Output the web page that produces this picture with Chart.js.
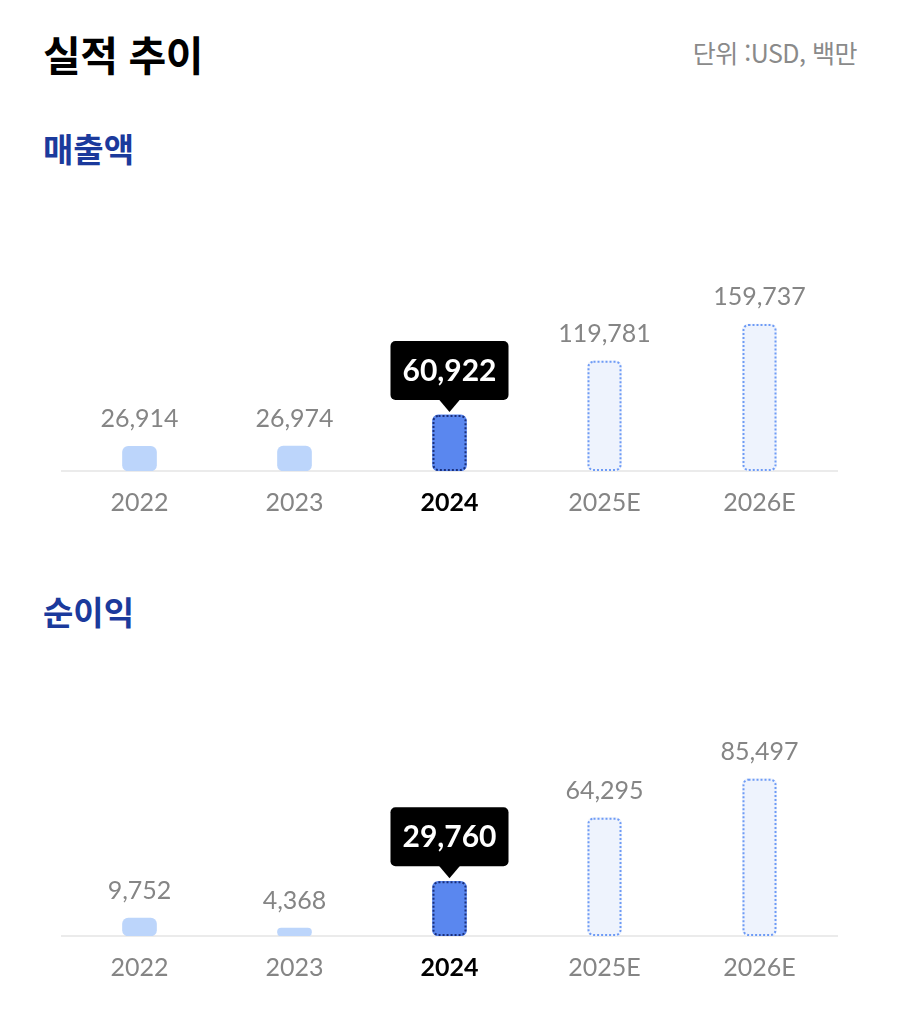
<!DOCTYPE html>
<html lang="ko">
<head>
<meta charset="utf-8">
<title>실적 추이</title>
<script src="https://cdn.jsdelivr.net/npm/chart.js@4.4.1/dist/chart.umd.min.js"></script>
<style>
    html, body { margin: 0; padding: 0; background: #fff; }
    body { width: 900px; height: 1014px; position: relative; overflow: hidden;
           font-family: "Noto Sans CJK KR", "Noto Sans", sans-serif; }
    .title { position: absolute; left: 43px; top: 28px; font-size: 41px; line-height: 50px;
             font-weight: 700; color: #000; letter-spacing: -0.5px; }
    .unit { position: absolute; right: 43px; top: 37px; font-size: 25px; line-height: 30px;
            color: #8a8a8a; letter-spacing: -0.5px; }
    .section { position: absolute; left: 43px; font-size: 33px; line-height: 40px;
               font-weight: 700; color: #1b3a9c; }
    .chart-box { position: absolute; left: 0; width: 900px; height: 368px; }
</style>
</head>
<body>
    <div class="title">실적 추이</div>
    <div class="unit">단위 :USD, 백만</div>

    <div class="section" style="top:128px">매출액</div>
    <div class="chart-box" style="top:180px"><canvas id="revenueChart"></canvas></div>

    <div class="section" style="top:591px">순이익</div>
    <div class="chart-box" style="top:645px"><canvas id="incomeChart"></canvas></div>

<script>
// ---- data ----
const YEARS = ['2022', '2023', '2024', '2025E', '2026E'];
const REVENUE = [26914, 26974, 60922, 119781, 159737];
const NET_INCOME = [9752, 4368, 29760, 64295, 85497];
const CURRENT_YEAR = '2024';
const FORECAST_YEARS = ['2025E', '2026E'];
const REVENUE_AXIS_MAX = 200000;
const NET_INCOME_AXIS_MAX = 100000;

const NUM_FONT = 'Lato, "Noto Sans", sans-serif';

function kindOf(year) {
    if (year === CURRENT_YEAR) return 'current';
    if (FORECAST_YEARS.includes(year)) return 'forecast';
    return 'past';
}

const FILL = { past: '#bcd5fb', current: '#5a87ef', forecast: '#eef3fd' };
const DOTS = { current: '#1a2f7a', forecast: '#6e9bf5' };

// draws the dotted outlines, value labels and the black callout
const barDecor = {
    id: 'barDecor',
    afterDatasetsDraw(chart) {
        const ctx = chart.ctx;
        const values = chart.data.datasets[0].data;
        const labels = chart.data.labels;
        chart.getDatasetMeta(0).data.forEach((bar, i) => {
            const { x, y, base, width } = bar.getProps(['x', 'y', 'base', 'width'], true);
            const kind = kindOf(labels[i]);
            const text = values[i].toLocaleString('en-US');

            if (kind !== 'past') {
                ctx.save();
                ctx.strokeStyle = DOTS[kind];
                ctx.lineWidth = 2;
                ctx.setLineDash([2, 2]);
                ctx.beginPath();
                ctx.roundRect(x - width / 2 + 1, y + 1, width - 2, base - y - 2, 5);
                ctx.stroke();
                ctx.restore();
            }

            ctx.save();
            if (kind === 'current') {
                ctx.font = 'bold 30px ' + NUM_FONT;
                const w = ctx.measureText(text).width + 24;
                const boxBottom = y - 15, boxTop = y - 74;
                ctx.fillStyle = '#000';
                ctx.beginPath();
                ctx.roundRect(x - w / 2, boxTop, w, boxBottom - boxTop, 5);
                ctx.fill();
                ctx.beginPath();
                ctx.moveTo(x - 11, boxBottom - 1);
                ctx.lineTo(x + 11, boxBottom - 1);
                ctx.lineTo(x, y - 3);
                ctx.closePath();
                ctx.fill();
                ctx.fillStyle = '#fff';
                ctx.textAlign = 'center';
                ctx.textBaseline = 'middle';
                ctx.fillText(text, x, (boxTop + boxBottom) / 2 + 1);
            } else {
                ctx.font = '25px ' + NUM_FONT;
                ctx.fillStyle = '#858585';
                ctx.textAlign = 'center';
                ctx.textBaseline = 'middle';
                ctx.fillText(text, x, y - 27);
            }
            ctx.restore();
        });
    }
};

function makeChart(canvasId, values, axisMax) {
    const kinds = YEARS.map(kindOf);
    return new Chart(document.getElementById(canvasId), {
        type: 'bar',
        data: {
            labels: YEARS,
            datasets: [{
                data: values,
                backgroundColor: kinds.map(k => FILL[k]),
                borderWidth: 0,
                borderRadius: 6,
                borderSkipped: false,
                barThickness: 34
            }]
        },
        options: {
            responsive: true,
            maintainAspectRatio: false,
            animation: false,
            layout: { padding: { top: 107, left: 62, right: 63, bottom: 13 } },
            plugins: { legend: { display: false }, tooltip: { enabled: false } },
            scales: {
                y: { display: false, min: 0, max: axisMax },
                x: {
                    grid: { display: false, drawTicks: false },
                    border: { display: true, color: '#ebebeb', width: 2 },
                    ticks: {
                        padding: 17,
                        color: c => YEARS[c.index] === CURRENT_YEAR ? '#000' : '#858585',
                        font: c => ({
                            family: NUM_FONT,
                            size: 25,
                            weight: YEARS[c.index] === CURRENT_YEAR ? 'bold' : 'normal'
                        })
                    }
                }
            }
        },
        plugins: [barDecor]
    });
}

makeChart('revenueChart', REVENUE, REVENUE_AXIS_MAX);
makeChart('incomeChart', NET_INCOME, NET_INCOME_AXIS_MAX);
</script>
</body>
</html>
